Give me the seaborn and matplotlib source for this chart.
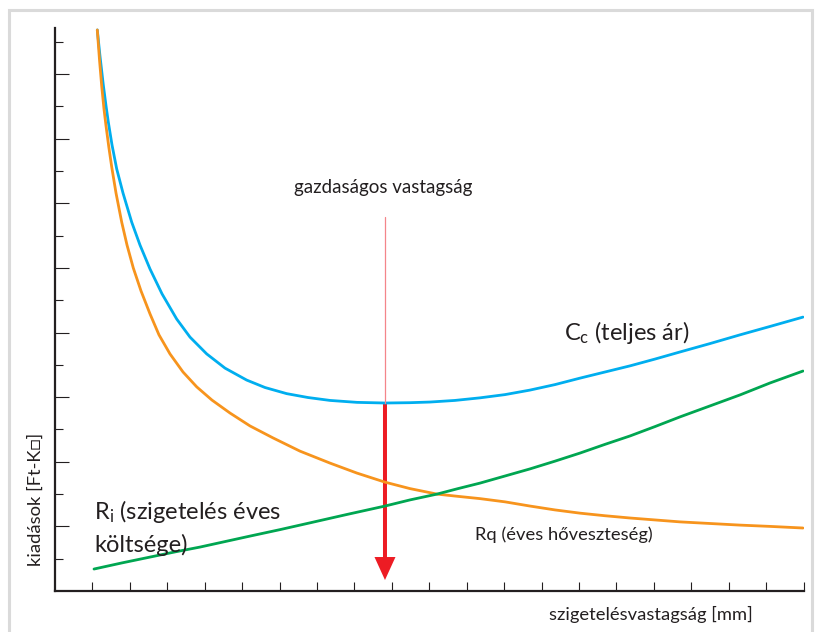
import matplotlib
matplotlib.use("Agg")
import matplotlib.pyplot as plt
import seaborn as sns
from matplotlib.patches import Rectangle

# Értékek (x: tengelyosztás egység, y: tengelyosztás egység)
x_cc = [1.130, 1.202, 1.290, 1.363, 1.424, 1.523, 1.648, 1.817, 2.049, 2.271,
        2.538, 2.859, 3.251, 3.607, 4.053, 4.542, 5.121, 5.610, 6.190, 6.759,
        7.347, 8.068, 8.816, 9.484, 10.018, 10.686, 11.354, 12.022, 12.690,
        13.358, 14.026, 14.694, 15.362, 16.029, 16.697, 17.499, 18.300, 19.102,
        19.984]
y_cc = [17.37, 16.56, 15.67, 15.02, 14.52, 13.81, 13.07, 12.32, 11.42, 10.71,
        9.97, 9.20, 8.42, 7.86, 7.34, 6.90, 6.53, 6.30, 6.11, 5.99,
        5.90, 5.84, 5.82, 5.83, 5.85, 5.90, 5.98, 6.08, 6.22,
        6.39, 6.59, 6.78, 6.97, 7.18, 7.40, 7.66, 7.93, 8.19,
        8.48]

x_rq = [1.130, 1.189, 1.248, 1.309, 1.363, 1.437, 1.515, 1.630, 1.782, 1.924,
        2.092, 2.298, 2.538, 2.778, 3.072, 3.420, 3.786, 4.194, 4.675, 5.210,
        5.824, 6.545, 7.347, 8.068, 8.816, 9.484, 10.206, 10.767, 11.354,
        12.022, 12.690, 13.358, 14.026, 14.694, 15.362, 16.029, 16.697, 17.499,
        18.300, 19.102, 19.984]
y_rq = [17.37, 16.44, 15.63, 14.92, 14.40, 13.75, 13.13, 12.32, 11.42, 10.71,
        10.00, 9.29, 8.58, 7.93, 7.34, 6.78, 6.32, 5.91, 5.51, 5.11,
        4.74, 4.33, 3.96, 3.65, 3.37, 3.17, 3.00, 2.93, 2.86,
        2.76, 2.63, 2.51, 2.41, 2.33, 2.26, 2.20, 2.14, 2.09,
        2.04, 2.00, 1.95]

x_ri = [1.042, 1.790, 2.538, 3.206, 3.874, 4.542, 5.210, 6.011, 6.813, 7.801,
        8.816, 9.484, 10.206, 10.767, 11.354, 12.022, 12.690, 13.358, 14.026,
        14.694, 15.362, 16.029, 16.697, 17.499, 18.300, 19.102, 19.984]
y_ri = [0.68, 0.87, 1.05, 1.21, 1.36, 1.53, 1.70, 1.90, 2.11, 2.37,
        2.63, 2.82, 3.00, 3.17, 3.34, 3.56, 3.78, 4.02, 4.27,
        4.54, 4.80, 5.09, 5.39, 5.73, 6.07, 6.44, 6.81]

# gazdaságos vastagság
x_opt = 8.816
y_opt = 5.82
y_jel_top = 11.58
y_nyil_hegy = 0.34

x_ticks = list(range(1, 21))
y_major = list(range(2, 17, 2))
y_minor = list(range(1, 18, 2))

kek = "#00aeef"
narancs = "#f7941d"
zold = "#00a651"
piros = "#ed1c24"
sotet = "#231f20"

sns.set_theme(style="white")
plt.rcParams["font.family"] = ["Lato", "DejaVu Sans"]

fig = plt.figure(figsize=(8.15, 6.32), dpi=100)
ax = fig.add_axes([55 / 815, 41 / 632, (803.6 - 55) / 815, (591 - 28) / 632])

sns.lineplot(x=x_cc, y=y_cc, color=kek, lw=2.0, ax=ax)
sns.lineplot(x=x_rq, y=y_rq, color=narancs, lw=2.0, ax=ax)
sns.lineplot(x=x_ri, y=y_ri, color=zold, lw=2.0, ax=ax)

ax.set_xlim(0, 20)
ax.set_ylim(0, 17.43)

# jelölő vonal és nyíl
ax.plot([x_opt, x_opt], [y_opt, y_jel_top], color="#f4858a", lw=0.9)
ax.arrow(x_opt, y_opt, 0, y_nyil_hegy - y_opt, width=4 / 37.43, head_width=21 / 37.43,
         head_length=23 / 32.3, length_includes_head=True, color=piros, lw=0)

for s in ["top", "right"]:
    ax.spines[s].set_visible(False)
for s in ["left", "bottom"]:
    ax.spines[s].set_color(sotet)
    ax.spines[s].set_linewidth(1.6)

ax.set_xticks(x_ticks)
ax.set_yticks(y_major)
ax.set_yticks(y_minor, minor=True)
ax.tick_params(axis="x", which="both", bottom=True, direction="in", length=6.5,
               width=0.8, color=sotet, labelbottom=False)
ax.tick_params(axis="y", which="major", left=True, direction="in", length=10,
               width=0.8, color=sotet, labelleft=False)
ax.tick_params(axis="y", which="minor", left=True, direction="in", length=5.5,
               width=0.8, color=sotet, labelleft=False)

ax.text(8.76, 12.32, "gazdaságos vastagság", ha="center", va="baseline",
        fontsize=13.5, color=sotet)
ax.text(13.60, 7.77, r"$\mathregular{C_c}$ (teljes ár)", ha="left", va="baseline",
        fontsize=17, color=sotet)
ax.text(1.04, 2.23, r"$\mathregular{R_i}$ (szigetelés éves", ha="left", va="baseline",
        fontsize=17, color=sotet)
ax.text(1.04, 1.21, "költsége)", ha="left", va="baseline", fontsize=17, color=sotet)
ax.text(11.22, 1.58, "Rq (éves hőveszteség)", ha="left", va="baseline",
        fontsize=13.2, color=sotet)

fig.text(753 / 815, (632 - 620) / 632, "szigetelésvastagság [mm]", ha="right",
         va="baseline", fontsize=13.2, color=sotet)
fig.text(36 / 815, (632 - 499) / 632, "kiadások [Ft-K□]", ha="center", va="center",
         rotation=90, fontsize=13.2, color=sotet)

# keret
fig.patches.append(Rectangle((8.5 / 815, -0.05), (811.5 - 8.5) / 815, 1.05 - 9.5 / 632,
                             transform=fig.transFigure, fill=False,
                             edgecolor="#dadada", lw=2.2))

plt.savefig("out.png", dpi=100)
